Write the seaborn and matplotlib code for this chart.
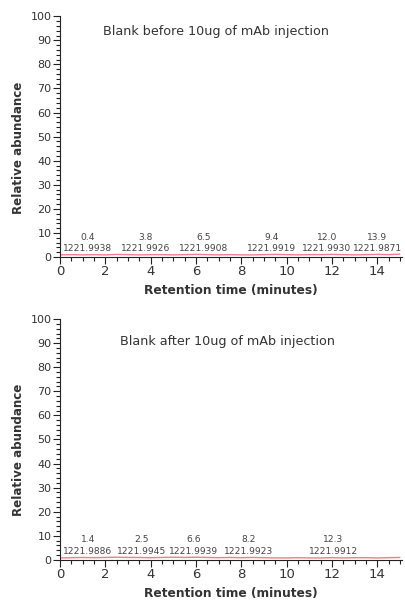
import numpy as np
import pandas as pd
import matplotlib
matplotlib.use("Agg")
import matplotlib.pyplot as plt
from matplotlib.ticker import MultipleLocator
import seaborn as sns

# trace (relative abundance, flat baseline)
time_min = [0.0, 0.5, 1.0, 1.5, 2.0, 2.5, 3.0, 3.5, 4.0, 4.5, 5.0, 5.5, 6.0, 6.5, 7.0, 7.5,
            8.0, 8.5, 9.0, 9.5, 10.0, 10.5, 11.0, 11.5, 12.0, 12.5, 13.0, 13.5, 14.0, 14.5, 15.0]
before_trace = [0.9, 1.0, 0.9, 1.0, 0.9, 1.1, 1.0, 0.9, 1.0, 1.0, 0.9, 1.0, 1.1, 1.0, 0.9, 1.0,
                0.9, 0.9, 1.0, 1.1, 1.0, 0.9, 1.0, 1.0, 1.1, 1.0, 0.9, 1.0, 1.1, 1.0, 1.2]
after_trace = [0.8, 0.9, 1.0, 0.9, 1.0, 1.1, 1.0, 1.0, 0.9, 1.0, 1.1, 1.0, 1.1, 1.0, 0.9, 1.0,
               0.9, 1.0, 0.9, 0.8, 0.8, 0.9, 0.8, 0.8, 0.9, 0.8, 0.9, 0.9, 0.8, 0.9, 1.0]

before_rt = [0.4, 3.8, 6.5, 9.4, 12.0, 13.9]
before_mz = ["1221.9938", "1221.9926", "1221.9908", "1221.9919", "1221.9930", "1221.9871"]
after_rt = [1.4, 2.5, 6.6, 8.2, 12.3]
after_mz = ["1221.9886", "1221.9945", "1221.9939", "1221.9923", "1221.9912"]

before_title = "Blank before 10ug of mAb injection"
after_title = "Blank after 10ug of mAb injection"

# label anchor positions (shifted so labels do not overlap)
before_label_x = [1.23, 3.79, 6.34, 9.33, 11.77, 14.0]
after_label_x = [1.23, 3.6, 5.9, 8.33, 12.07]

sns.set_style("ticks")
plt.rcParams["font.family"] = ["DejaVu Sans"]

fig = plt.figure(figsize=(4.05, 6.02), dpi=100)
ax1 = fig.add_axes([0.148, 0.573, 0.845, 0.400])
ax2 = fig.add_axes([0.148, 0.070, 0.845, 0.400])

panels = [
    (ax1, before_trace, before_rt, before_mz, before_label_x, before_title, 6.87, 93.5),
    (ax2, after_trace, after_rt, after_mz, after_label_x, after_title, 7.4, 90.5),
]

dark = "#333333"
for ax, trace, rts, mzs, lx, title, tx, ty in panels:
    df = pd.DataFrame({"time": time_min, "abundance": trace})
    sns.lineplot(data=df, x="time", y="abundance", ax=ax, color="#ec7f8c", linewidth=1.0)
    ax.set_xlim(0, 15.1)
    ax.set_ylim(0, 100)
    ax.xaxis.set_major_locator(MultipleLocator(2))
    ax.xaxis.set_minor_locator(MultipleLocator(0.5))
    ax.yaxis.set_major_locator(MultipleLocator(10))
    ax.yaxis.set_minor_locator(MultipleLocator(2))
    ax.tick_params(axis="both", which="major", length=5, width=0.8, color="#222222")
    ax.tick_params(axis="both", which="minor", length=3, width=0.8, color="#222222")
    ax.tick_params(axis="x", which="major", labelsize=9.5, pad=1, labelcolor=dark)
    ax.tick_params(axis="y", which="major", labelsize=8, pad=1, labelcolor=dark)
    for s in ["top", "right"]:
        ax.spines[s].set_visible(False)
    for s in ["left", "bottom"]:
        ax.spines[s].set_linewidth(0.8)
        ax.spines[s].set_color("#222222")
    ax.set_xlabel("Retention time (minutes)", fontsize=8.8, fontweight="bold", labelpad=4,
                  color=dark)
    ax.set_ylabel("Relative abundance", fontsize=8.6, fontweight="bold", color=dark)
    ax.yaxis.set_label_coords(-0.102, 0.455)
    ax.text(tx, ty, title, ha="center", va="center", fontsize=9.2, color=dark)
    for x, rt, mz in zip(lx, rts, mzs):
        ax.text(x, 1.8, f"{rt}\n{mz}", ha="center", va="bottom", fontsize=6.6,
                color="#444444", linespacing=1.3)

fig.savefig("out.png", dpi=100)
